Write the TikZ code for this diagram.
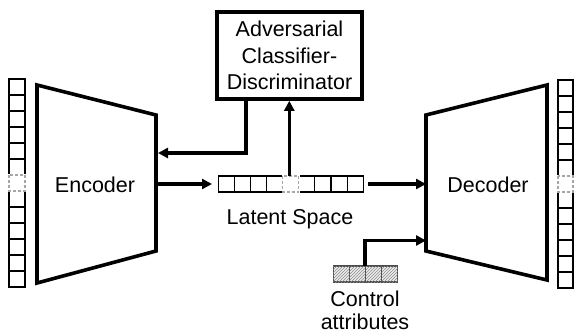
\documentclass[tikz,border=0pt]{standalone}
\usepackage{fontspec}
\setmainfont{Liberation Sans}
\usetikzlibrary{arrows.meta,patterns}
\begin{document}
\begin{tikzpicture}[x=1pt,y=-1pt,
  txt/.style={font=\fontsize{21.5}{26.5}\selectfont, inner sep=0pt},
  cell/.style={draw=black, line width=1.1pt, fill=white},
  gapcell/.style={draw=gray!70, line width=1.1pt, densely dashed},
  blank/.style={draw=white, line width=2pt, fill=white},
  hatch/.style={draw=black!70, line width=1.1pt, fill=gray!15, postaction={pattern=north east lines, pattern color=gray!90}},
  thickline/.style={line width=3.6pt, line join=miter},
  conn/.style={line width=3.6pt, -{Triangle[length=10pt,width=10pt]}},
  advbox/.style={draw, line width=3.6pt, minimum width=145pt, minimum height=87pt, align=center, inner sep=0pt, font=\fontsize{21.5}{26.5}\selectfont}
]
\useasboundingbox (0,0) rectangle (574,333);

% left input column
\foreach \i in {0,...,12}{
  \draw[cell] (9,{79+16*\i}) rectangle (25,{95+16*\i});
}
\draw[blank] (9,175) rectangle (25,191);
\draw[gapcell] (9,175) rectangle (25,191);

% right output column
\foreach \i in {0,...,12}{
  \draw[cell] (558,{80+16*\i}) rectangle (573,{96+16*\i});
}
\draw[blank] (558,176) rectangle (573,192);
\draw[gapcell] (558,176) rectangle (573,192);

% encoder
\draw[thickline] (37,85) -- (156,115) -- (156,251) -- (37,283) -- cycle;
\node[txt, anchor=base] (enc) at (95,192) {Encoder};
\coordinate (encA) at (156,153);
\coordinate (encB) at (156,184);

% decoder
\draw[thickline] (426,115) -- (547,85) -- (547,280) -- (426,251) -- cycle;
\node[txt, anchor=base] (dec) at (488,192) {Decoder};
\coordinate (decA) at (426,184);
\coordinate (decB) at (426,240.5);

% adversarial box
\node[advbox] (adv) at (289.5,55.5) {Adversarial\\Classifier-\\Discriminator};

% latent space
\foreach \i in {0,1,2,3,5,6,7,8}{
  \draw[cell] ({218.3+16.1*\i},176) rectangle ({234.4+16.1*\i},192);
}
\draw[blank] (282.7,176) rectangle (298.8,192);
\draw[gapcell] (282.7,176) rectangle (298.8,192);
\coordinate (latL) at (212,184);
\coordinate (latR) at (368,184);
\coordinate (latT) at (289.3,176);
\node[txt, anchor=base] (latlbl) at (290,224) {Latent Space};

% control attributes
\foreach \i in {0,...,3}{
  \draw[hatch] ({333.3+16.1*\i},266) rectangle ({349.4+16.1*\i},282);
}
\coordinate (ctl) at (365,266);
\node[txt, align=center, anchor=north, font=\fontsize{21.5}{23.3}\selectfont] (ctllbl) at (365,290.8) {Control\\attributes};

% connectors
\draw[conn] (encB) -- (latL);
\draw[conn] (latR) -- (decA);
\draw[conn] (latT) -- (latT |- adv.south);
\draw[conn] (adv.south -| 245.7,0) |- ([xshift=2pt]encA);
\draw[conn] (ctl) |- (decB);
\end{tikzpicture}
\end{document}
